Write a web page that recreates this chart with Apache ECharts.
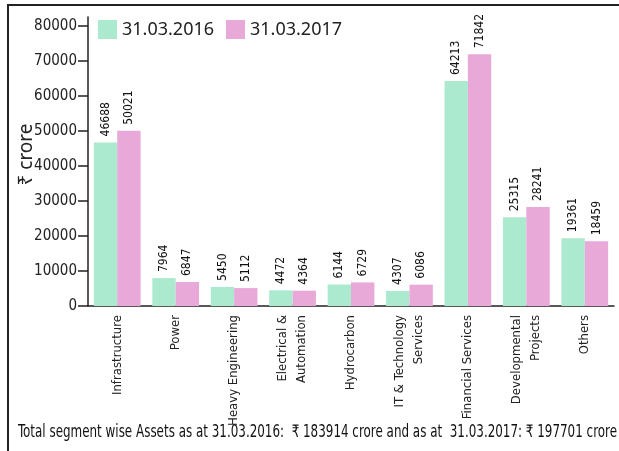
<!DOCTYPE html>
<html>
<head>
<meta charset="utf-8">
<script src="https://cdn.jsdelivr.net/npm/echarts@6/dist/echarts.min.js"></script>
<style>
  html, body { margin: 0; padding: 0; background: #fff; }
  #chart { width: 619px; height: 451px; }
</style>
</head>
<body>
<div id="chart"></div>
<script>
// segment names
var categories = ['Infrastructure', 'Power', 'Heavy Engineering', 'Electrical &\nAutomation',
    'Hydrocarbon', 'IT & Technology\nServices', 'Financial Services', 'Developmental\nProjects', 'Others'];
// assets, Rs crore
var assets2016 = [46688, 7964, 5450, 4472, 6144, 4307, 64213, 25315, 19361];
var assets2017 = [50021, 6847, 5112, 4364, 6729, 6086, 71842, 28241, 18459];
var yTicks = [0, 10000, 20000, 30000, 40000, 50000, 60000, 70000, 80000];

var footer = 'Total segment wise Assets as at 31.03.2016:  \u20b9 183914 crore and as at  31.03.2017: \u20b9 197701 crore';

var narrow = '"DejaVu Sans Condensed", sans-serif';

// squeeze footer to the width it has in the original
var ctx = document.createElement('canvas').getContext('2d');
ctx.font = '17px ' + narrow;
var footerScale = 599 / ctx.measureText(footer).width;

function barLabel() {
    return {
        show: true,
        position: 'top',
        rotate: 90,
        align: 'left',
        verticalAlign: 'middle',
        distance: 6,
        fontFamily: narrow,
        fontSize: 12,
        color: '#111'
    };
}

echarts.init(document.getElementById('chart')).setOption({
    animation: false,
    legend: {
        left: 93,
        top: 15,
        icon: 'rect',
        itemWidth: 19,
        itemHeight: 19,
        itemGap: 12,
        textStyle: { fontFamily: 'Noto Sans', fontSize: 18, color: '#222' },
        data: ['31.03.2016', '31.03.2017']
    },
    grid: { left: 88, right: 5, top: 17, bottom: 145, outerBoundsMode: 'none' },
    xAxis: {
        type: 'category',
        data: categories,
        axisLine: { lineStyle: { color: '#222', width: 1.5 } },
        axisTick: { length: 8, lineStyle: { color: '#222', width: 1.5 } },
        axisLabel: {
            rotate: 90,
            interval: 0,
            margin: 9,
            fontFamily: narrow,
            fontSize: 13,
            lineHeight: 19,
            color: '#222'
        }
    },
    yAxis: {
        type: 'value',
        min: 0,
        max: 82500,
        name: '\u20b9 crore',
        nameLocation: 'middle',
        nameRotate: 90,
        nameGap: 52,
        nameMoveOverlap: false,
        nameTextStyle: { fontFamily: 'Noto Sans', fontSize: 19, color: '#222', padding: [0, 0, 0, 14] },
        splitLine: { show: false },
        axisLine: { show: true, lineStyle: { color: '#222', width: 1.5 } },
        axisTick: { show: true, length: 10, customValues: yTicks, lineStyle: { color: '#222', width: 1.5 } },
        axisLabel: {
            customValues: yTicks,
            margin: 11,
            formatter: function (v) { return String(v); },
            fontFamily: narrow,
            fontSize: 15,
            color: '#222'
        }
    },
    series: [
        {
            name: '31.03.2016',
            type: 'bar',
            data: assets2016,
            barGap: '0%',
            barCategoryGap: '20%',
            itemStyle: { color: '#acead0' },
            label: barLabel()
        },
        {
            name: '31.03.2017',
            type: 'bar',
            data: assets2017,
            itemStyle: { color: '#e8a8d8' },
            label: barLabel()
        }
    ],
    graphic: [
        { type: 'line', shape: { x1: 8, y1: 5, x2: 8, y2: 451 }, style: { stroke: '#222', lineWidth: 2 } },
        { type: 'line', shape: { x1: 7, y1: 5, x2: 619, y2: 5 }, style: { stroke: '#222', lineWidth: 2 } },
        {
            type: 'text',
            x: 18,
            y: 424,
            scaleX: footerScale,
            style: {
                text: footer,
                fontFamily: narrow,
                fontSize: 17,
                fill: '#111'
            }
        }
    ]
});
</script>
</body>
</html>
